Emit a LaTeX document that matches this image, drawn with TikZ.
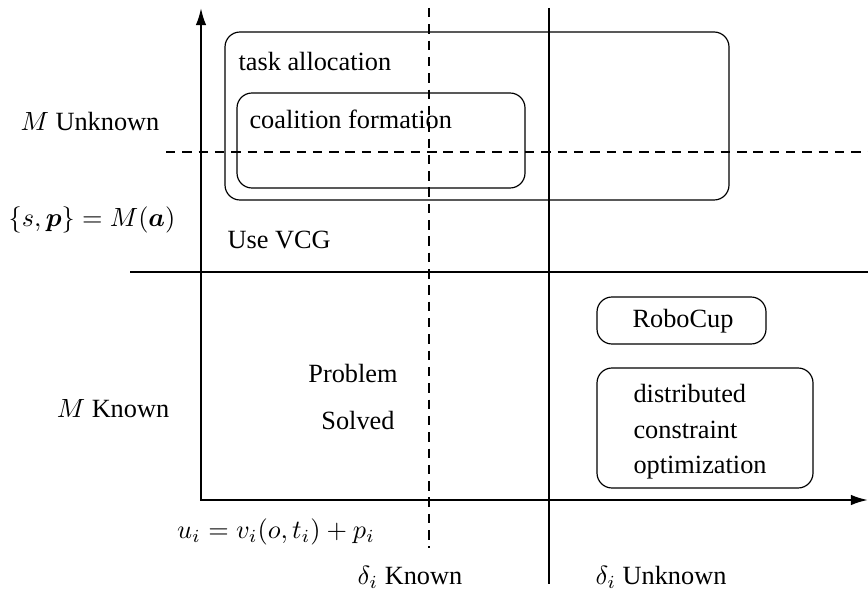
\documentclass[tikz,border=0pt]{standalone}
\usepackage{amsmath}
\usepackage[no-math]{fontspec}
\setmainfont{LiberationSerif}[Extension=.ttf,UprightFont=*-Regular,BoldFont=*-Bold,ItalicFont=*-Italic,BoldItalicFont=*-BoldItalic]
\usetikzlibrary{arrows.meta}
\tikzset{
  axis/.style={line width=0.8pt,-{Latex[length=6.5pt,width=4pt]}},
  region/.style={line width=0.8pt},
  divide/.style={line width=0.45pt},
  guess/.style={line width=0.45pt,dash pattern=on 3.6pt off 2.6pt},
  rbox/.style={line width=0.45pt,rounded corners=5.7pt},
  lbl/.style={inner sep=0pt}
}
\begin{document}
\begin{tikzpicture}[x=0.38pt,y=-0.38pt]
\useasboundingbox (0,0) rectangle (868,592);
\coordinate (O) at (201,500);
\coordinate (ytop) at (201,8);
\coordinate (xend) at (868,500);
\draw[axis] (O) -- (ytop);
\draw[axis] (O) -- (xend);
% quadrants
\draw[divide] (130,272) -- (868,272);
\draw[divide] (549,8) -- (549,584);
\draw[guess] (429,8) -- (429,548);
\draw[guess] (166,152) -- (868,152);
\draw[region] (201,272) rectangle (549,500);
% boxes
\draw[rbox] (225,32) rectangle (729,200);
\draw[rbox] (237,93) rectangle (525,188);
\draw[rbox] (597,297) rectangle (766,344);
\draw[rbox] (597,368) rectangle (813,488);
% labels
\node[lbl] (munk) at (90,122) {$M$ Unknown};
\node[lbl] (mfun) at (92,220) {$\{s,\boldsymbol{p}\}=M(\boldsymbol{a})$};
\node[lbl] (mknown) at (113,409) {$M$ Known};
\node[lbl,anchor=west] (vcg) at (227,240) {Use VCG};
\node[lbl,anchor=west] (alloc) at (238,62) {task allocation};
\node[lbl,anchor=west] (coal) at (249,119) {coalition formation};
\node[lbl] (prob) at (353,373) {Problem};
\node[lbl] (solv) at (358,420) {Solved};
\node[lbl] (robo) at (683,321) {RoboCup};
\node[lbl,anchor=west,align=left,font=\fontsize{10}{13.5}\selectfont] (dist) at (633,432) {distributed\\constraint\\optimization};
\node[lbl] (util) at (276,532) {$u_i=v_i(o,t_i)+p_i$};
\node[lbl] (dknown) at (410,577) {$\delta_i$ Known};
\node[lbl] (dunknown) at (661,577) {$\delta_i$ Unknown};
\end{tikzpicture}
\end{document}
